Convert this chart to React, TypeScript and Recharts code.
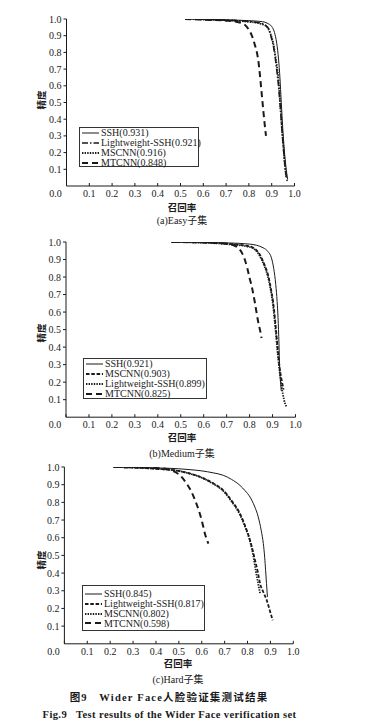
import { LineChart, Line, XAxis, YAxis, Legend } from 'recharts';

type Pt = [number, number];

// recall / precision points
const easySsh: Pt[] = [[0.52, 1.0], [0.6, 0.998], [0.7, 0.995], [0.8, 0.99], [0.86, 0.984], [0.88, 0.975], [0.9, 0.955], [0.912, 0.92], [0.922, 0.855], [0.93, 0.76], [0.936, 0.65], [0.942, 0.5], [0.948, 0.355], [0.955, 0.22], [0.962, 0.12], [0.97, 0.04]];
const easyLight: Pt[] = [[0.52, 1.0], [0.6, 0.997], [0.7, 0.993], [0.8, 0.985], [0.85, 0.975], [0.875, 0.96], [0.89, 0.93], [0.9, 0.88], [0.91, 0.82], [0.92, 0.72], [0.93, 0.6], [0.938, 0.47], [0.945, 0.34], [0.952, 0.22], [0.96, 0.1], [0.968, 0.03]];
const easyMscnn: Pt[] = [[0.53, 1.0], [0.6, 0.997], [0.7, 0.992], [0.8, 0.983], [0.85, 0.972], [0.878, 0.955], [0.895, 0.91], [0.907, 0.854], [0.918, 0.76], [0.929, 0.65], [0.937, 0.5], [0.944, 0.355], [0.952, 0.22], [0.958, 0.12], [0.963, 0.056]];
const easyMtcnn: Pt[] = [[0.52, 1.0], [0.6, 0.996], [0.7, 0.99], [0.75, 0.982], [0.783, 0.964], [0.8, 0.935], [0.812, 0.904], [0.825, 0.85], [0.835, 0.8], [0.841, 0.754], [0.848, 0.67], [0.856, 0.555], [0.864, 0.44], [0.87, 0.36], [0.875, 0.3]];

const medSsh: Pt[] = [[0.46, 1.0], [0.6, 0.998], [0.7, 0.995], [0.8, 0.988], [0.859, 0.967], [0.88, 0.945], [0.895, 0.91], [0.905, 0.85], [0.914, 0.757], [0.92, 0.66], [0.924, 0.567], [0.928, 0.42], [0.931, 0.281], [0.935, 0.2], [0.938, 0.15]];
const medMscnn: Pt[] = [[0.46, 1.0], [0.6, 0.997], [0.7, 0.99], [0.8, 0.975], [0.844, 0.929], [0.865, 0.87], [0.88, 0.814], [0.892, 0.74], [0.902, 0.662], [0.91, 0.57], [0.917, 0.471], [0.924, 0.37], [0.931, 0.281], [0.94, 0.21], [0.948, 0.157]];
const medLight: Pt[] = [[0.46, 1.0], [0.6, 0.996], [0.7, 0.988], [0.8, 0.972], [0.84, 0.93], [0.862, 0.87], [0.878, 0.81], [0.89, 0.74], [0.9, 0.66], [0.908, 0.57], [0.915, 0.47], [0.922, 0.37], [0.93, 0.27], [0.94, 0.17], [0.95, 0.1], [0.96, 0.06]];
const medMtcnn: Pt[] = [[0.46, 1.0], [0.6, 0.997], [0.7, 0.99], [0.74, 0.975], [0.757, 0.957], [0.779, 0.9], [0.79, 0.85], [0.8, 0.795], [0.812, 0.73], [0.822, 0.662], [0.83, 0.6], [0.837, 0.547], [0.845, 0.5], [0.852, 0.452]];

const hardSsh: Pt[] = [[0.215, 1.0], [0.3, 0.998], [0.4, 0.995], [0.5, 0.99], [0.549, 0.985], [0.6, 0.978], [0.65, 0.967], [0.694, 0.953], [0.73, 0.93], [0.767, 0.896], [0.79, 0.865], [0.811, 0.83], [0.83, 0.78], [0.847, 0.717], [0.86, 0.64], [0.869, 0.567], [0.875, 0.49], [0.879, 0.416], [0.883, 0.34], [0.887, 0.265]];
const hardLight: Pt[] = [[0.215, 1.0], [0.3, 0.997], [0.4, 0.99], [0.5, 0.978], [0.549, 0.963], [0.6, 0.94], [0.65, 0.908], [0.694, 0.868], [0.73, 0.81], [0.767, 0.736], [0.79, 0.665], [0.811, 0.585], [0.833, 0.472], [0.845, 0.405], [0.855, 0.34], [0.87, 0.29], [0.884, 0.246], [0.897, 0.19], [0.91, 0.133]];
const hardMscnn: Pt[] = [[0.215, 1.0], [0.3, 0.997], [0.4, 0.99], [0.5, 0.977], [0.549, 0.962], [0.6, 0.94], [0.65, 0.905], [0.694, 0.865], [0.73, 0.805], [0.767, 0.73], [0.79, 0.66], [0.811, 0.58], [0.825, 0.5], [0.835, 0.42], [0.845, 0.35], [0.855, 0.284]];
const hardMtcnn: Pt[] = [[0.215, 1.0], [0.3, 0.998], [0.4, 0.994], [0.44, 0.99], [0.47, 0.98], [0.505, 0.953], [0.534, 0.906], [0.555, 0.86], [0.571, 0.812], [0.587, 0.755], [0.6, 0.698], [0.614, 0.623], [0.622, 0.59], [0.629, 0.567]];

const xTicks = [0, 0.1, 0.2, 0.3, 0.4, 0.5, 0.6, 0.7, 0.8, 0.9, 1.0];
const yTicks = [0.1, 0.2, 0.3, 0.4, 0.5, 0.6, 0.7, 0.8, 0.9, 1.0];

const FONT = "'Liberation Serif', 'Times New Roman', 'Noto Sans CJK SC', serif";
const INK = '#1a1a1a';

const STYLES: Record<string, { dash?: string; w: number }> = {
  solid: { w: 1 },
  dashdot: { dash: '6 2 1.5 2', w: 1.6 },
  dot: { dash: '1.4 1.2', w: 1.8 },
  short: { dash: '3.5 1.8', w: 1.8 },
  long: { dash: '6 4', w: 2 },
};

type Series = { name: string; pts: Pt[]; style: string };

const toRows = (pts: Pt[]) => pts.map(([r, p]) => ({ r, p }));

const XTick = (props: any) => {
  const { x, y, payload } = props;
  const v = payload.value as number;
  return (
    <text x={v === 0 ? x - 11 : x} y={y} dy={7} textAnchor="middle" fontSize={10} fill={INK} fontFamily={FONT}>
      {v.toFixed(1)}
    </text>
  );
};

const LegendBox = ({ series, width, height, padTop, rowH }: { series: Series[]; width: number; height: number; padTop: number; rowH: number }) => (
  <div style={{ width, height, boxSizing: 'border-box', border: '1px solid #333', background: '#fff', paddingTop: padTop, fontFamily: FONT, fontSize: 10, color: INK }}>
    {series.map((s) => {
      const st = STYLES[s.style];
      return (
        <div key={s.name} style={{ display: 'flex', alignItems: 'center', height: rowH, lineHeight: `${rowH}px` }}>
          <svg width={21} height={6} style={{ flex: 'none' }}>
            <line x1={2} x2={19} y1={3} y2={3} stroke={INK} strokeWidth={st.w} strokeDasharray={st.dash} />
          </svg>
          <span style={{ whiteSpace: 'nowrap' }}>{s.name}</span>
        </div>
      );
    })}
  </div>
);

type PanelProps = {
  left: number; right: number; top: number; bottom: number;
  series: Series[];
  legend: { left: number; top: number; width: number; height: number; padTop: number; rowH: number };
  yTitleY: number; xTitleX: number; xTitleY: number; subtitle: string; subY: number;
};

const Panel = ({ left, right, top, bottom, series, legend, yTitleY, xTitleX, xTitleY, subtitle, subY }: PanelProps) => {
  const pad = 6;
  const chartTop = top - pad;
  return (
    <>
      <div style={{ position: 'absolute', left: 0, top: chartTop }}>
        <LineChart width={368} height={bottom - top + pad + 24} margin={{ top: pad, right: 368 - right, bottom: 0, left: 0 }}>
          <XAxis dataKey="r" type="number" domain={[0, 1]} ticks={xTicks} interval={0} allowDataOverflow
            stroke={INK} tickSize={-3} tickMargin={7} tick={<XTick />} height={24} />
          <YAxis type="number" domain={[0, 1]} ticks={yTicks} interval={0} allowDataOverflow width={left}
            stroke={INK} tickSize={3} tickMargin={2} tickFormatter={(v: number) => v.toFixed(1)}
            tick={{ fontSize: 10, fill: INK, fontFamily: FONT }} />
          <Legend layout="horizontal" verticalAlign="middle" align="center"
            wrapperStyle={{ left: legend.left, top: legend.top - chartTop, width: legend.width, height: legend.height }}
            content={() => <LegendBox series={series} width={legend.width} height={legend.height} padTop={legend.padTop} rowH={legend.rowH} />} />
          {series.map((s) => {
            const st = STYLES[s.style];
            return (
              <Line key={s.name} name={s.name} data={toRows(s.pts)} dataKey="p" type="monotone"
                stroke={INK} strokeWidth={st.w} strokeDasharray={st.dash} dot={false} isAnimationActive={false} />
            );
          })}
        </LineChart>
      </div>
      <div style={{ position: 'absolute', left: 41, top: yTitleY, transform: 'translate(-50%, -50%) rotate(-90deg)', fontFamily: FONT, fontSize: 9.5, fontWeight: 700, color: INK, whiteSpace: 'nowrap' }}>精度</div>
      <div style={{ position: 'absolute', left: xTitleX, top: xTitleY, transform: 'translate(-50%, -50%)', fontFamily: FONT, fontSize: 9.5, fontWeight: 700, color: INK, whiteSpace: 'nowrap' }}>召回率</div>
      <div style={{ position: 'absolute', left: xTitleX, top: subY, transform: 'translate(-50%, -50%)', fontFamily: FONT, fontSize: 10, color: INK, whiteSpace: 'nowrap' }}>{subtitle}</div>
    </>
  );
};

export default function App() {
  return (
    <div style={{ position: 'absolute', left: 0, top: 0, width: 368, height: 727, background: '#fff', overflow: 'hidden' }}>
      <Panel left={66.5} right={294.5} top={19} bottom={186}
        series={[
          { name: 'SSH(0.931)', pts: easySsh, style: 'solid' },
          { name: 'Lightweight-SSH(0.921)', pts: easyLight, style: 'dashdot' },
          { name: 'MSCNN(0.916)', pts: easyMscnn, style: 'dot' },
          { name: 'MTCNN(0.848)', pts: easyMtcnn, style: 'long' },
        ]}
        legend={{ left: 79, top: 127, width: 120, height: 40, padTop: 0, rowH: 10 }}
        yTitleY={100} xTitleX={182} xTitleY={207} subtitle="(a)Easy子集" subY={219} />
      <Panel left={66} right={295.5} top={242.3} bottom={417.5}
        series={[
          { name: 'SSH(0.921)', pts: medSsh, style: 'solid' },
          { name: 'MSCNN(0.903)', pts: medMscnn, style: 'short' },
          { name: 'Lightweight-SSH(0.899)', pts: medLight, style: 'dot' },
          { name: 'MTCNN(0.825)', pts: medMtcnn, style: 'long' },
        ]}
        legend={{ left: 83, top: 358, width: 124, height: 41, padTop: 0, rowH: 10 }}
        yTitleY={333} xTitleX={182} xTitleY={437} subtitle="(b)Medium子集" subY={452} />
      <Panel left={64.4} right={293.3} top={466.7} bottom={643.5}
        series={[
          { name: 'SSH(0.845)', pts: hardSsh, style: 'solid' },
          { name: 'Lightweight-SSH(0.817)', pts: hardLight, style: 'short' },
          { name: 'MSCNN(0.802)', pts: hardMscnn, style: 'dot' },
          { name: 'MTCNN(0.598)', pts: hardMtcnn, style: 'long' },
        ]}
        legend={{ left: 82, top: 585.5, width: 123, height: 45.5, padTop: 3, rowH: 9.7 }}
        yTitleY={560} xTitleX={178} xTitleY={663} subtitle="(c)Hard子集" subY={678} />
      <div style={{ position: 'absolute', left: 0, width: 338, top: 696, transform: 'translateY(-50%)', textAlign: 'center', fontFamily: FONT, fontSize: 10.5, fontWeight: 700, letterSpacing: 1.2, color: INK, whiteSpace: 'nowrap' }}>
        图9&nbsp;&nbsp;&nbsp;Wider Face人脸验证集测试结果
      </div>
      <div style={{ position: 'absolute', left: 0, width: 339, top: 714, transform: 'translateY(-50%)', textAlign: 'center', fontFamily: FONT, fontSize: 10.5, fontWeight: 700, letterSpacing: 0.4, color: INK, whiteSpace: 'nowrap' }}>
        Fig.9&nbsp;&nbsp;&nbsp;Test results of the Wider Face verification set
      </div>
    </div>
  );
}
